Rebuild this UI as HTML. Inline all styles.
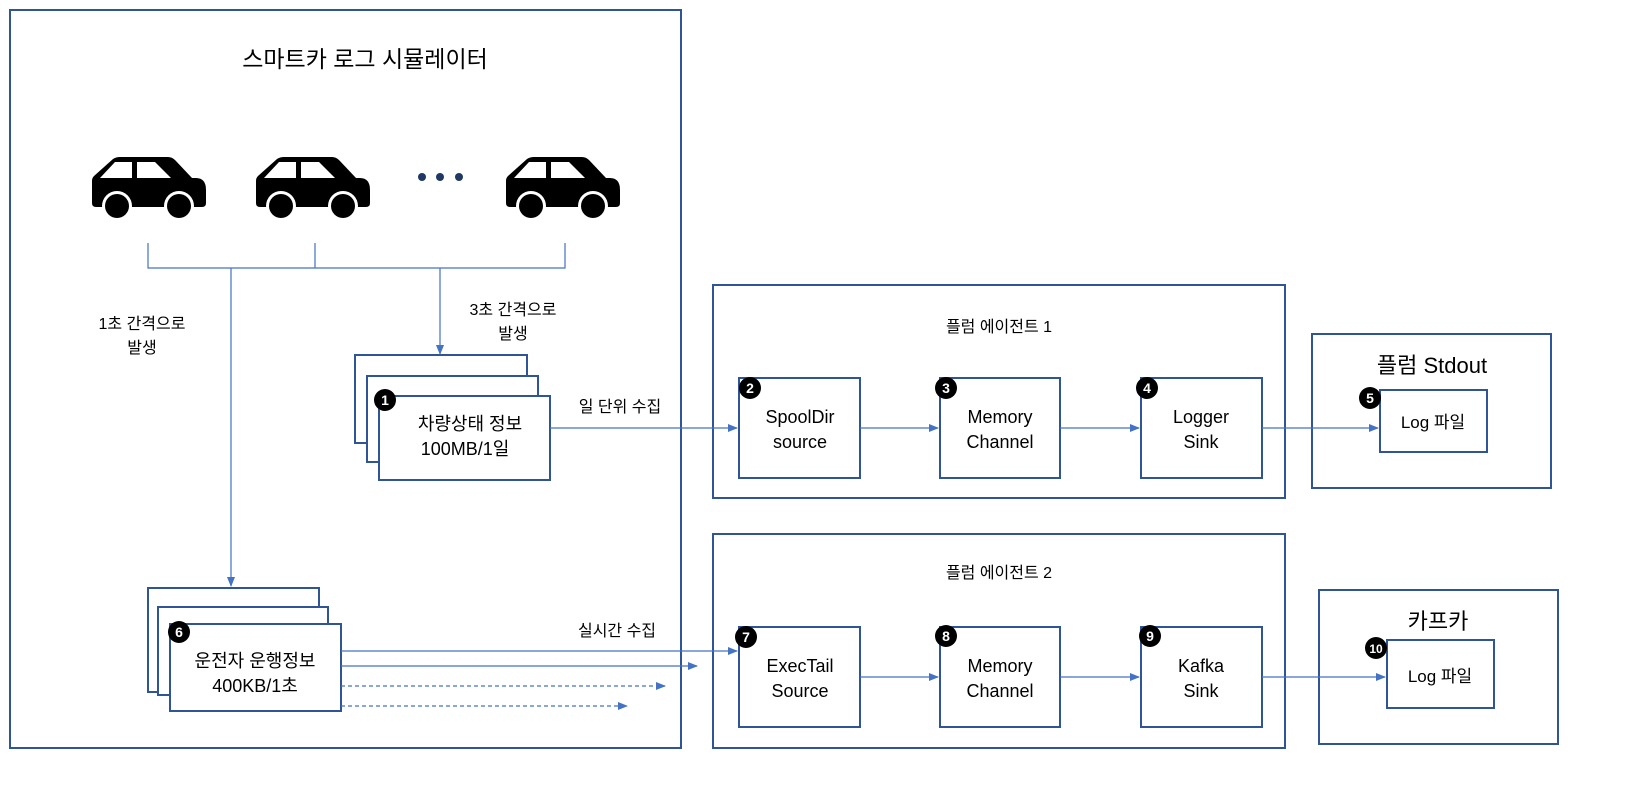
<!DOCTYPE html>
<html><head><meta charset="utf-8"><style>
html,body{margin:0;padding:0;background:#fff}
svg{display:block}
text{font-family:"Liberation Sans","Noto Sans CJK KR",sans-serif;fill:#000}
</style></head><body>
<svg width="1639" height="791" viewBox="0 0 1639 791" xmlns="http://www.w3.org/2000/svg">
<defs>
<marker id="a" markerWidth="10" markerHeight="10" refX="9" refY="5" orient="auto" markerUnits="userSpaceOnUse"><path d="M0,1 L10,5 L0,9 z" fill="#4472C4"/></marker>
<g id="car">
<path d="M2,26 L21,9 Q24,7 28,7 L76,7 Q80,7 83,10 L100,28 L104,28 Q114,28 114,40 L114,53 Q114,57 110,57 L4,57 Q0,57 0,53 L0,31 Q0,28 2,26 Z" fill="#000"/>
<path d="M8,28 L23,12 L40,12 L40,28 Z M45,12 L63,12 L79,28 L45,28 Z" fill="#fff"/>
<circle cx="25" cy="56" r="15" fill="#fff"/><circle cx="25" cy="56" r="12" fill="#000"/>
<circle cx="87" cy="56" r="15" fill="#fff"/><circle cx="87" cy="56" r="12" fill="#000"/>
</g>
</defs>
<g fill="#fff" stroke="#2F5597" stroke-width="2">
<rect x="10" y="10" width="671" height="738"/>
<rect x="355" y="355" width="172" height="88"/>
<rect x="367" y="376" width="171" height="86"/>
<rect x="379" y="396" width="171" height="84"/>
<rect x="148" y="588" width="171" height="104"/>
<rect x="158" y="607" width="170" height="88"/>
<rect x="170" y="624" width="171" height="87"/>
<rect x="713" y="285" width="572" height="213"/>
<rect x="739" y="378" width="121" height="100"/>
<rect x="940" y="378" width="120" height="100"/>
<rect x="1141" y="378" width="121" height="100"/>
<rect x="1312" y="334" width="239" height="154"/>
<rect x="1380" y="390" width="107" height="62"/>
<rect x="713" y="534" width="572" height="214"/>
<rect x="739" y="627" width="121" height="100"/>
<rect x="940" y="627" width="120" height="100"/>
<rect x="1141" y="627" width="121" height="100"/>
<rect x="1319" y="590" width="239" height="154"/>
<rect x="1387" y="640" width="107" height="68"/>
</g>
<use href="#car" x="92" y="150"/><use href="#car" x="256" y="150"/><use href="#car" x="506" y="150"/>
<g fill="#1F3864"><circle cx="422" cy="177" r="4"/><circle cx="440" cy="177" r="4"/><circle cx="459" cy="177" r="4"/></g>
<g stroke="#4472C4" stroke-width="1.2" fill="none">
<path d="M148,243 V268 H565 V243 M315,243 V268"/>
<path d="M231,268 V586" marker-end="url(#a)"/>
<path d="M440,268 V354" marker-end="url(#a)"/>
<path d="M550,428 H737" marker-end="url(#a)"/>
<path d="M860,428 H938" marker-end="url(#a)"/>
<path d="M1060,428 H1139" marker-end="url(#a)"/>
<path d="M1262,428 H1378" marker-end="url(#a)"/>
<path d="M860,677 H938" marker-end="url(#a)"/>
<path d="M1060,677 H1139" marker-end="url(#a)"/>
<path d="M1262,677 H1385" marker-end="url(#a)"/>
<path d="M341,651 H737" marker-end="url(#a)"/>
<path d="M341,666 H697" marker-end="url(#a)"/>
<path d="M341,686 H665" stroke-dasharray="4,3" marker-end="url(#a)"/>
<path d="M341,706 H627" stroke-dasharray="4,3" marker-end="url(#a)"/>
</g>
<g font-size="14" text-anchor="middle" font-weight="bold">
<circle cx="385" cy="400" r="11" fill="#000"/><text x="385" y="405" style="fill:#fff">1</text>
<circle cx="750" cy="388" r="11" fill="#000"/><text x="750" y="393" style="fill:#fff">2</text>
<circle cx="946" cy="388" r="11" fill="#000"/><text x="946" y="393" style="fill:#fff">3</text>
<circle cx="1147" cy="388" r="11" fill="#000"/><text x="1147" y="393" style="fill:#fff">4</text>
<circle cx="1370" cy="398" r="11" fill="#000"/><text x="1370" y="403" style="fill:#fff">5</text>
<circle cx="179" cy="632" r="11" fill="#000"/><text x="179" y="637" style="fill:#fff">6</text>
<circle cx="746" cy="637" r="11" fill="#000"/><text x="746" y="642" style="fill:#fff">7</text>
<circle cx="946" cy="636" r="11" fill="#000"/><text x="946" y="641" style="fill:#fff">8</text>
<circle cx="1150" cy="636" r="11" fill="#000"/><text x="1150" y="641" style="fill:#fff">9</text>
<circle cx="1376" cy="648" r="11" fill="#000"/><text x="1376" y="653" font-size="12" style="fill:#fff">10</text>
</g>
<g text-anchor="middle" font-size="18">
<text x="365" y="67" font-size="23">스마트카 로그 시뮬레이터</text>
<text x="470" y="430">차량상태 정보</text>
<text x="465" y="455">100MB/1일</text>
<text x="255" y="667">운전자 운행정보</text>
<text x="255" y="692">400KB/1초</text>
<text x="800" y="423">SpoolDir</text><text x="800" y="448">source</text>
<text x="1000" y="423">Memory</text><text x="1000" y="448">Channel</text>
<text x="1201" y="423">Logger</text><text x="1201" y="448">Sink</text>
<text x="800" y="672">ExecTail</text><text x="800" y="697">Source</text>
<text x="1000" y="672">Memory</text><text x="1000" y="697">Channel</text>
<text x="1201" y="672">Kafka</text><text x="1201" y="697">Sink</text>
<text x="1433" y="428" font-size="17">Log 파일</text>
<text x="1440" y="682" font-size="17">Log 파일</text>
<text x="1432" y="373" font-size="22">플럼 Stdout</text>
<text x="1438" y="629" font-size="22">카프카</text>
</g>
<g text-anchor="middle" font-size="16">
<text x="142" y="329">1초 간격으로</text><text x="142" y="353">발생</text>
<text x="513" y="315">3초 간격으로</text><text x="513" y="339">발생</text>
<text x="620" y="412">일 단위 수집</text>
<text x="617" y="636">실시간 수집</text>
<text x="999" y="332">플럼 에이전트 1</text>
<text x="999" y="578">플럼 에이전트 2</text>
</g>
</svg>
</body></html>
